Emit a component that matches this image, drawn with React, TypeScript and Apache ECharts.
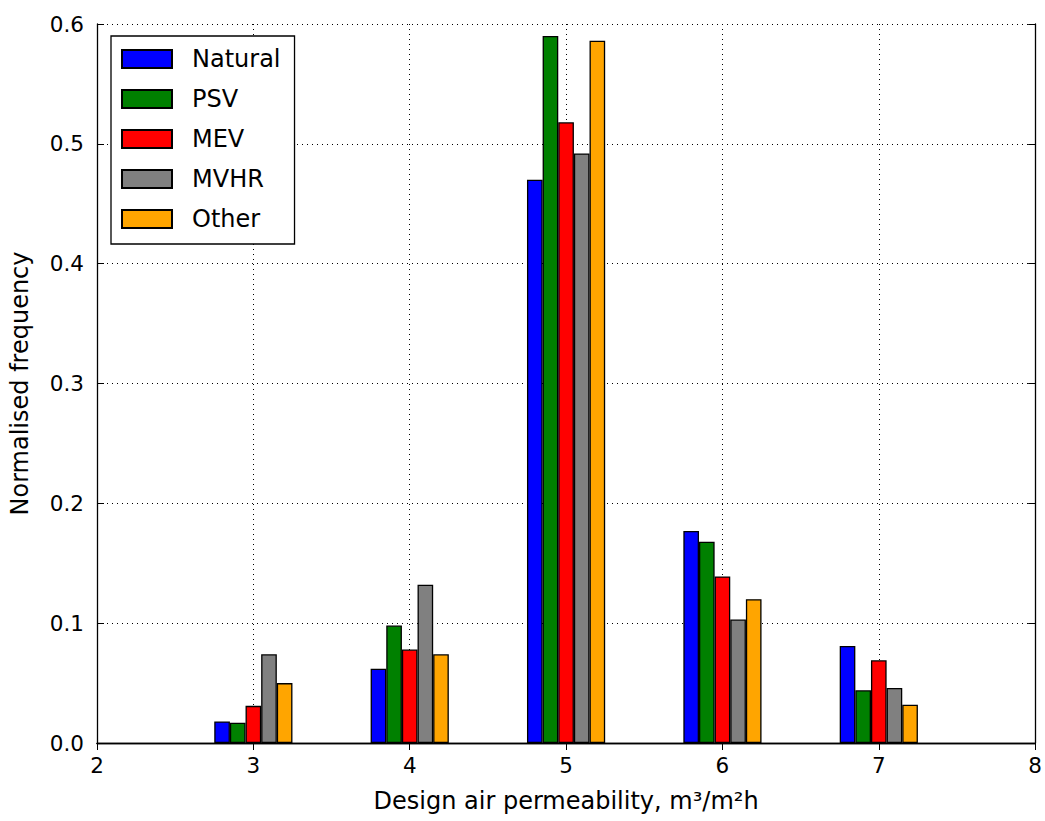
import React, { useEffect, useRef } from "react";
import * as echarts from "echarts";

const groups = [3, 4, 5, 6, 7];
const seriesNames = ["Natural", "PSV", "MEV", "MVHR", "Other"];
const seriesOffsets = [-0.2, -0.1, 0, 0.1, 0.2];
const seriesColors = ["#0000ff", "#008000", "#ff0000", "#808080", "#ffa500"];
const natural = [0.018, 0.062, 0.47, 0.177, 0.081];
const psv = [0.017, 0.098, 0.59, 0.168, 0.044];
const mev = [0.031, 0.078, 0.518, 0.139, 0.069];
const mvhr = [0.074, 0.132, 0.492, 0.103, 0.046];
const other = [0.05, 0.074, 0.586, 0.12, 0.032];
const seriesValues = [natural, psv, mev, mvhr, other];
const xTicks = [2, 3, 4, 5, 6, 7, 8];
const yTicks = [0, 0.1, 0.2, 0.3, 0.4, 0.5, 0.6];

const FONT = "DejaVu Sans";

export default function App() {
  const ref = useRef<HTMLDivElement>(null);
  useEffect(() => {
    if (!ref.current) return;
    const chart = echarts.init(ref.current, undefined, { renderer: "svg" });
    const gridLeft = 97;
    const gridTop = 24;
    const gridW = 939;
    const gridH = 719;
    const barW = (gridW / (xTicks[xTicks.length - 1] - xTicks[0])) * 0.1;
    const axisCommon = {
      axisLine: { show: true, lineStyle: { color: "#000", width: 1.3 } },
      axisTick: { show: true, inside: true, length: 7, lineStyle: { color: "#000" } },
    };
    chart.setOption({
      animation: false,
      backgroundColor: "#fff",
      grid: { left: gridLeft, top: gridTop, width: gridW, height: gridH, containLabel: false },
      legend: {
        orient: "vertical",
        left: 111,
        top: 36,
        padding: [11, 14, 13, 10],
        itemWidth: 50,
        itemHeight: 18,
        itemGap: 16,
        borderColor: "#000",
        borderWidth: 1.3,
        backgroundColor: "#fff",
        icon: "rect",
        textStyle: { fontFamily: FONT, fontSize: 24, color: "#000", padding: [0, 0, 0, 15] },
        data: seriesNames,
      },
      xAxis: [
        {
          type: "value",
          min: xTicks[0],
          max: xTicks[xTicks.length - 1],
          interval: 1,
          position: "bottom",
          name: "Design air permeability, m\u00b3/m\u00b2h",
          nameLocation: "middle",
          nameGap: 46,
          nameTextStyle: { fontFamily: FONT, fontSize: 24, color: "#000" },
          axisLabel: { fontFamily: FONT, fontSize: 21.5, color: "#000", margin: 11 },
          splitLine: { show: true, lineStyle: { color: "#000", type: [1, 4], width: 1 } },
          ...axisCommon,
        },
        {
          type: "value",
          min: xTicks[0],
          max: xTicks[xTicks.length - 1],
          interval: 1,
          position: "top",
          axisLabel: { show: false },
          splitLine: { show: false },
          ...axisCommon,
        },
      ],
      yAxis: [
        {
          type: "value",
          min: yTicks[0],
          max: yTicks[yTicks.length - 1],
          interval: 0.1,
          position: "left",
          name: "Normalised frequency",
          nameLocation: "middle",
          nameGap: 65,
          nameTextStyle: { fontFamily: FONT, fontSize: 24, color: "#000" },
          axisLabel: {
            fontFamily: FONT,
            fontSize: 21.5,
            color: "#000",
            margin: 13,
            formatter: (v: number) => v.toFixed(1),
          },
          splitLine: { show: true, lineStyle: { color: "#000", type: [1, 4], width: 1 } },
          ...axisCommon,
        },
        {
          type: "value",
          min: yTicks[0],
          max: yTicks[yTicks.length - 1],
          interval: 0.1,
          position: "right",
          axisLabel: { show: false },
          splitLine: { show: false },
          ...axisCommon,
        },
      ],
      series: seriesNames.map((name, i) => ({
        name,
        type: "bar",
        xAxisIndex: 0,
        yAxisIndex: 0,
        barWidth: barW,
        barGap: "-100%",
        itemStyle: { color: seriesColors[i], borderColor: "#000", borderWidth: 1.3 },
        data: groups.map((g, j) => [g + seriesOffsets[i], seriesValues[i][j]]),
      })),
    });
    return () => chart.dispose();
  }, []);
  return (
    <div
      ref={ref}
      style={{ position: "absolute", left: 0, top: 0, width: 1045, height: 821 }}
    />
  );
}
